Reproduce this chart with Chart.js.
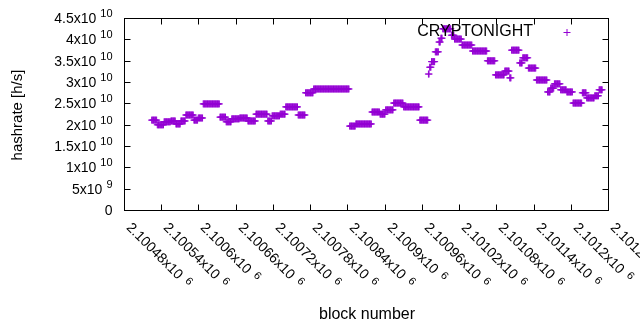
<!DOCTYPE html>
<html>
<head>
<meta charset="utf-8">
<script src="https://cdn.jsdelivr.net/npm/chart.js@4.4.1/dist/chart.umd.min.js"></script>
<style>
  html, body { margin: 0; padding: 0; background: #fff; }
  #wrap { width: 640px; height: 330px; }
</style>
</head>
<body>
<div id="wrap"><canvas id="hashChart" width="640" height="330"></canvas></div>
<script>
// runs of blocks that share the same hashrate value (start inclusive, end exclusive)
const runStart = [
  2100523, 2100532, 2100543, 2100554, 2100562, 2100570, 2100578, 2100591, 2100598, 2100606,
  2100633, 2100643, 2100652, 2100665, 2100678, 2100691, 2100710, 2100717, 2100730, 2100739,
  2100759, 2100771, 2100784, 2100842, 2100852, 2100878, 2100891, 2100900, 2100913, 2100929,
  2100955, 2100969, 2100971, 2100974, 2100980, 2100986, 2100989, 2100992, 2101006, 2101011,
  2101023, 2101040, 2101064, 2101077, 2101092, 2101100, 2101103, 2101116, 2101121, 2101130,
  2101143, 2101161, 2101166, 2101172, 2101182, 2101192, 2101202, 2101217, 2101224, 2101237,
  2101244
];
const runEnd = [
  2100532, 2100543, 2100554, 2100562, 2100570, 2100578, 2100591, 2100598, 2100606, 2100633,
  2100643, 2100652, 2100665, 2100678, 2100691, 2100710, 2100717, 2100730, 2100739, 2100759,
  2100771, 2100784, 2100842, 2100852, 2100878, 2100891, 2100900, 2100913, 2100929, 2100955,
  2100969, 2100971, 2100974, 2100980, 2100986, 2100989, 2100992, 2101006, 2101011, 2101023,
  2101040, 2101064, 2101077, 2101092, 2101100, 2101103, 2101116, 2101121, 2101130, 2101143,
  2101161, 2101166, 2101172, 2101182, 2101192, 2101202, 2101217, 2101224, 2101237, 2101244,
  2101250
];
const runHashrate = [
  2.13e10, 2.02e10, 2.09e10, 2.11e10, 2.04e10, 2.11e10, 2.25e10, 2.13e10, 2.18e10, 2.51e10,
  2.20e10, 2.09e10, 2.16e10, 2.18e10, 2.11e10, 2.27e10, 2.11e10, 2.23e10, 2.27e10, 2.44e10,
  2.25e10, 2.77e10, 2.86e10, 1.99e10, 2.04e10, 2.32e10, 2.27e10, 2.37e10, 2.53e10, 2.44e10,
  2.13e10, 3.21e10, 3.37e10, 3.50e10, 3.73e10, 3.96e10, 4.05e10, 4.27e10, 4.12e10, 4.03e10,
  3.89e10, 3.75e10, 3.52e10, 3.19e10, 3.28e10, 3.12e10, 3.77e10, 3.47e10, 3.59e10, 3.35e10,
  3.07e10, 2.79e10, 2.88e10, 2.98e10, 2.84e10, 2.79e10, 2.53e10, 2.77e10, 2.65e10, 2.70e10,
  2.84e10
];

const seriesName = 'CRYPTONIGHT';
const xTitle = 'block number';
const yTitle = 'hashrate [h/s]';
const xRange = [2100480, 2101260];
const xStep = 60;
const yRange = [0, 4.5e10];
const yStep = 5e9;

const purple = '#9400d3';
const fontFace = "'Liberation Sans', Arial, sans-serif";

const points = [];
runStart.forEach(function(start, i) {
  for (let b = start; b < runEnd[i]; b++) {
    points.push({ x: b, y: runHashrate[i] });
  }
});

// split a number into gnuplot style "m x10^e"
function sciParts(v, digits) {
  if (v === 0) return { mant: '0', exp: '' };
  const e = Math.floor(Math.log10(Math.abs(v)) + 1e-9);
  const m = parseFloat((v / Math.pow(10, e)).toFixed(digits));
  return { mant: m + 'x10', exp: String(e) };
}

const gnuplotAxes = {
  id: 'gnuplotAxes',
  afterDraw(chart) {
    const ctx = chart.ctx;
    const a = chart.chartArea;
    const xs = chart.scales.x;
    const ys = chart.scales.y;
    const L = Math.round(a.left) - 0.5, R = Math.round(a.right) - 0.5;
    const T = Math.round(a.top) - 0.5, B = Math.round(a.bottom) - 0.5;
    ctx.save();
    ctx.strokeStyle = '#000';
    ctx.lineWidth = 1;
    ctx.fillStyle = '#000';

    // y ticks + labels
    ys.ticks.forEach(function(t) {
      const py = Math.round(ys.getPixelForValue(t.value)) - 0.5;
      ctx.beginPath();
      ctx.moveTo(L, py); ctx.lineTo(L + 6, py);
      ctx.moveTo(R, py); ctx.lineTo(R - 6, py);
      ctx.stroke();
      const p = sciParts(t.value, 1);
      ctx.textBaseline = 'middle';
      ctx.textAlign = 'right';
      let xr = L - 12;
      if (p.exp) {
        ctx.font = '11px ' + fontFace;
        ctx.fillText(p.exp, xr, py - 5);
        xr -= ctx.measureText(p.exp).width + 4;
      }
      ctx.font = '14px ' + fontFace;
      ctx.fillText(p.mant, xr, py + 1);
    });

    // x ticks + rotated labels
    xs.ticks.forEach(function(t) {
      const px = Math.round(xs.getPixelForValue(t.value)) - 0.5;
      ctx.beginPath();
      ctx.moveTo(px, B); ctx.lineTo(px, B - 6);
      ctx.moveTo(px, T); ctx.lineTo(px, T + 6);
      ctx.stroke();
      const p = sciParts(t.value, 5);
      ctx.save();
      ctx.translate(px + 4, B + 15);
      ctx.rotate(Math.PI / 4);
      ctx.textAlign = 'left';
      ctx.textBaseline = 'middle';
      ctx.font = '14px ' + fontFace;
      ctx.fillText(p.mant, 0, 0);
      const w = ctx.measureText(p.mant).width;
      ctx.font = '11px ' + fontFace;
      ctx.fillText(p.exp, w + 6, -3);
      ctx.restore();
    });

    // frame
    ctx.strokeRect(L, T, R - L, B - T);

    // axis titles
    ctx.textAlign = 'center';
    ctx.textBaseline = 'middle';
    ctx.font = '16px ' + fontFace;
    ctx.fillText(xTitle, (a.left + a.right) / 2, 315);
    ctx.save();
    ctx.font = '15px ' + fontFace;
    ctx.translate(18, (a.top + a.bottom) / 2);
    ctx.rotate(-Math.PI / 2);
    ctx.fillText(yTitle, 0, 0);
    ctx.restore();

    // key
    ctx.font = '16px ' + fontFace;
    ctx.textAlign = 'right';
    ctx.fillText(seriesName, 533, 32);
    ctx.strokeStyle = purple;
    ctx.beginPath();
    ctx.moveTo(563.5, 32.5); ctx.lineTo(570.5, 32.5);
    ctx.moveTo(567, 29); ctx.lineTo(567, 36);
    ctx.stroke();
    ctx.restore();
  }
};

new Chart(document.getElementById('hashChart').getContext('2d'), {
  type: 'scatter',
  data: {
    datasets: [{
      label: seriesName,
      data: points,
      pointStyle: 'cross',
      pointRadius: 3.5,
      pointHoverRadius: 3.5,
      borderColor: purple,
      backgroundColor: purple,
      borderWidth: 1
    }]
  },
  options: {
    responsive: false,
    animation: false,
    layout: { padding: { top: 19, right: 31, left: 0, bottom: 0 } },
    plugins: {
      legend: { display: false },
      tooltip: { enabled: false }
    },
    scales: {
      x: {
        type: 'linear',
        min: xRange[0],
        max: xRange[1],
        ticks: { display: false, stepSize: xStep },
        grid: { display: false },
        border: { display: false },
        afterFit: function(s) { s.height = 119; }
      },
      y: {
        type: 'linear',
        min: yRange[0],
        max: yRange[1],
        ticks: { display: false, stepSize: yStep },
        grid: { display: false },
        border: { display: false },
        afterFit: function(s) { s.width = 125; }
      }
    }
  },
  plugins: [gnuplotAxes]
});
</script>
</body>
</html>
